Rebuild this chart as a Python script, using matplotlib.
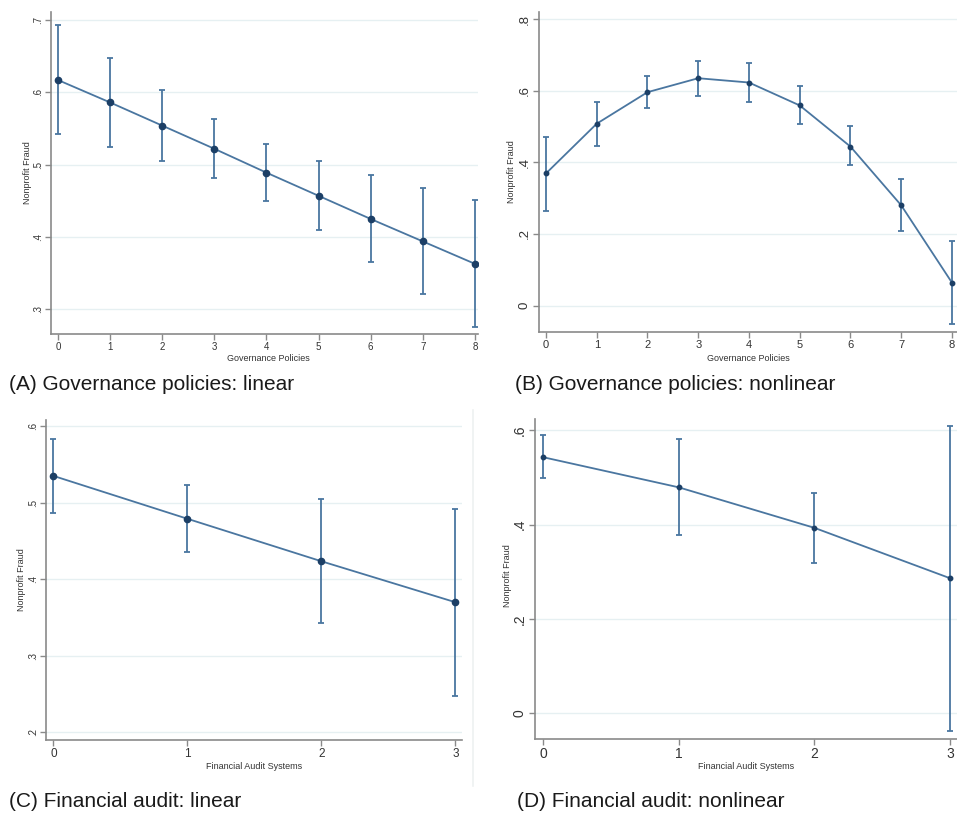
import matplotlib.pyplot as plt
from matplotlib.lines import Line2D
from matplotlib.ticker import FuncFormatter

W, H = 957, 813

# governance policies (0-8)
gov_x = [0, 1, 2, 3, 4, 5, 6, 7, 8]
gov_lin = [0.617, 0.586, 0.554, 0.522, 0.489, 0.457, 0.425, 0.394, 0.363]
gov_lin_lo = [0.542, 0.525, 0.505, 0.482, 0.450, 0.410, 0.366, 0.321, 0.276]
gov_lin_hi = [0.693, 0.647, 0.603, 0.563, 0.529, 0.505, 0.486, 0.468, 0.451]
gov_nl = [0.369, 0.508, 0.596, 0.635, 0.623, 0.559, 0.444, 0.280, 0.064]
gov_nl_lo = [0.265, 0.446, 0.553, 0.586, 0.569, 0.506, 0.392, 0.207, -0.051]
gov_nl_hi = [0.472, 0.569, 0.642, 0.684, 0.678, 0.613, 0.501, 0.353, 0.181]

# financial audit systems (0-3)
aud_x = [0, 1, 2, 3]
aud_lin = [0.535, 0.479, 0.4235, 0.370]
aud_lin_lo = [0.487, 0.435, 0.343, 0.248]
aud_lin_hi = [0.583, 0.523, 0.505, 0.492]
aud_nl = [0.543, 0.479, 0.393, 0.286]
aud_nl_lo = [0.498, 0.377, 0.318, -0.037]
aud_nl_hi = [0.589, 0.582, 0.468, 0.610]

captions = ["(A) Governance policies: linear", "(B) Governance policies: nonlinear",
            "(C) Financial audit: linear", "(D) Financial audit: nonlinear"]

LINE = "#4a76a0"
DOT = "#1c3f66"
GRID = "#e6f0f2"
SPINE = "#8a8a8a"
TXT = "#333333"
SANS = ["Liberation Sans", "DejaVu Sans"]


def ylab(v, pos):
    if abs(v) < 1e-9:
        return "0"
    return ("%.1f" % v).lstrip("0")


def axes_px(fig, l, t, r, b):
    return fig.add_axes([l / W, 1 - b / H, (r - l) / W, (b - t) / H])


def panel(fig, box, x, y, lo, hi, xlim, ylim, yticks, ms, yfs, xfs):
    ax = axes_px(fig, *box)
    err = [[m - a for m, a in zip(y, lo)], [b - m for m, b in zip(y, hi)]]
    ax.errorbar(x, y, yerr=err, fmt="none", ecolor=LINE, elinewidth=1.3,
                capsize=2.0, capthick=1.3, zorder=2)
    ax.plot(x, y, color=LINE, lw=1.3, zorder=3)
    ax.plot(x, y, "o", color=DOT, ms=ms, zorder=4)
    ax.set_xlim(*xlim)
    ax.set_ylim(*ylim)
    ax.set_xticks(x)
    ax.set_yticks(yticks)
    ax.yaxis.set_major_formatter(FuncFormatter(ylab))
    for yt in yticks:
        ax.axhline(yt, color=GRID, lw=1.0, zorder=1)
    for s in ["top", "right"]:
        ax.spines[s].set_visible(False)
    for s in ["left", "bottom"]:
        ax.spines[s].set_color(SPINE)
        ax.spines[s].set_linewidth(1.2)
    ax.tick_params(axis="both", colors=SPINE, length=4, width=1.0, labelcolor=TXT)
    ax.tick_params(axis="y", labelsize=yfs, labelrotation=90, pad=2)
    ax.tick_params(axis="x", labelsize=xfs, pad=2)
    for lab in ax.get_yticklabels():
        lab.set_family(SANS)
        lab.set_va("center")
    for lab in ax.get_xticklabels():
        lab.set_family(SANS)
    return ax


fig = plt.figure(figsize=(W / 100, H / 100), dpi=100)

panel(fig, (51, 12, 478, 334), gov_x, gov_lin, gov_lin_lo, gov_lin_hi,
      (-0.134, 8.06), (0.266, 0.711), [0.3, 0.4, 0.5, 0.6, 0.7], 4.5, 7, 7)
panel(fig, (539, 12, 957, 332), gov_x, gov_nl, gov_nl_lo, gov_nl_hi,
      (-0.138, 8.10), (-0.074, 0.82), [0, 0.2, 0.4, 0.6, 0.8], 3.2, 9.5, 8)
panel(fig, (46, 420, 462, 740), aud_x, aud_lin, aud_lin_lo, aud_lin_hi,
      (-0.055, 3.05), (0.190, 0.608), [0.2, 0.3, 0.4, 0.5, 0.6], 4.5, 7, 8.5)
panel(fig, (535, 419, 957, 739), aud_x, aud_nl, aud_nl_lo, aud_nl_hi,
      (-0.059, 3.05), (-0.055, 0.624), [0, 0.2, 0.4, 0.6], 3.2, 10, 10)

# faint frame edge to the right of panel C
fig.add_artist(Line2D([473 / W, 473 / W], [1 - 410 / H, 1 - 786 / H],
                      color="#eef1f1", lw=1.2))

# axis titles
for (xc, yc, s) in [(268, 358, "Governance Policies"), (748, 358, "Governance Policies"),
                    (254, 766, "Financial Audit Systems"), (746, 766, "Financial Audit Systems")]:
    fig.text(xc / W, 1 - yc / H, s, ha="center", va="center", fontsize=6.5,
             color=TXT, family=SANS)
for (xc, yc) in [(27, 173), (512, 172), (22, 580), (507, 576)]:
    fig.text(xc / W, 1 - yc / H, "Nonprofit Fraud", ha="center", va="center",
             rotation=90, fontsize=6.5, color=TXT, family=SANS)

# panel captions
for (xl, yc, s) in [(9, 384, captions[0]), (515, 384, captions[1]),
                    (9, 801, captions[2]), (517, 801, captions[3])]:
    fig.text(xl / W, 1 - yc / H, s, ha="left", va="center", fontsize=15,
             color="#1a1a1a", family=SANS)

fig.savefig("out.png", dpi=100)
